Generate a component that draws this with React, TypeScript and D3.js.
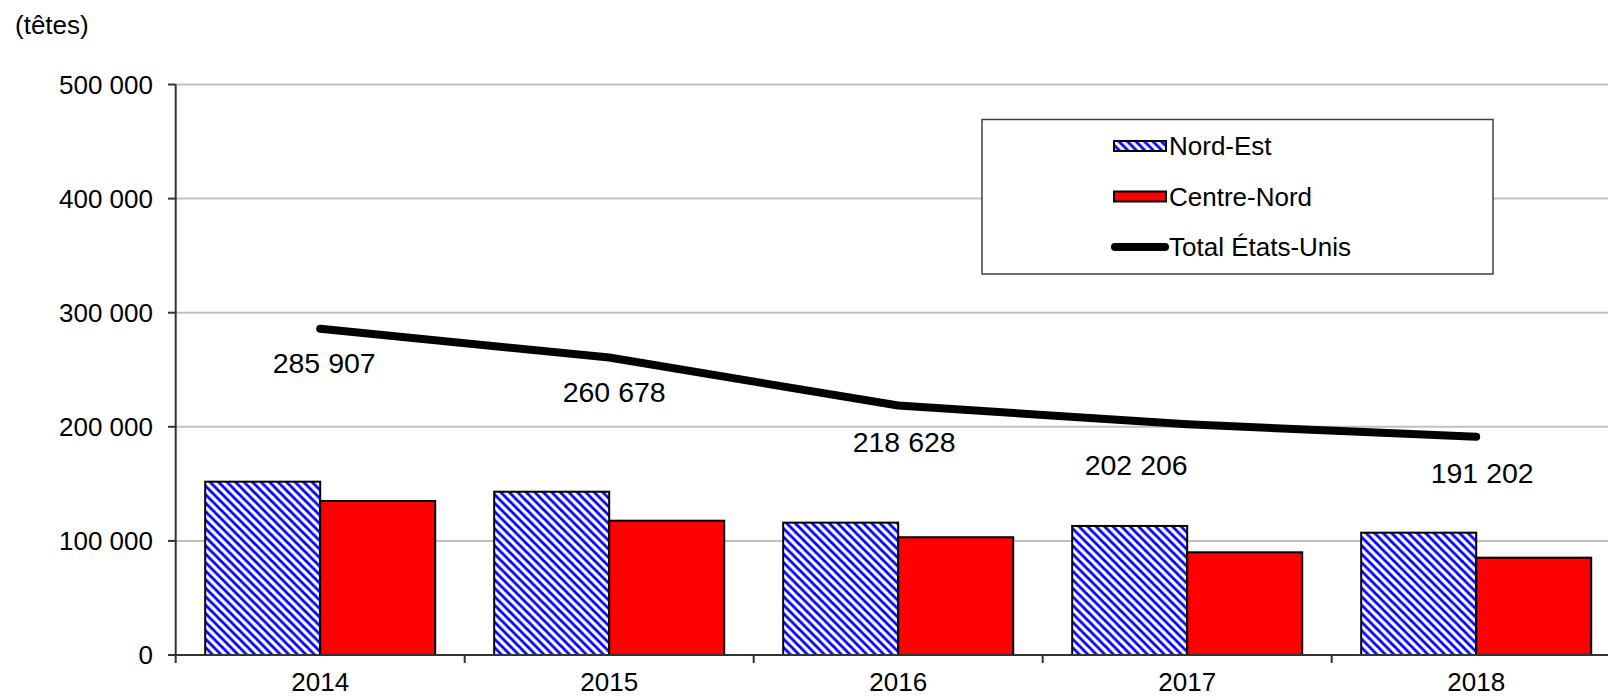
import React from "react";
import * as d3 from "d3";

const years = ["2014", "2015", "2016", "2017", "2018"];
const nordEst = [151900, 143100, 116000, 113100, 107200];
const centreNord = [135000, 117700, 103200, 90000, 85300];
const totalUS = [285907, 260678, 218628, 202206, 191202];
const totalLabels = ["285 907", "260 678", "218 628", "202 206", "191 202"];
const yTicks = [0, 100000, 200000, 300000, 400000, 500000];
const yTickLabels = ["0", "100 000", "200 000", "300 000", "400 000", "500 000"];
const seriesNames = ["Nord-Est", "Centre-Nord", "Total États-Unis"];
const unitLabel = "(têtes)";

// label placement offsets (dx, dy from the data point)
const labelOffsets: [number, number][] = [
  [4, 44],
  [5, 44],
  [6, 46],
  [-51, 51],
  [6, 46],
];

const W = 1608;
const H = 698;
const left = 175.7;
const step = 289;
const top = 84.5;
const bottom = 655;
const FONT = "'Liberation Sans', Arial, sans-serif";
const P = 8.5;

export default function App() {
  const x = d3.scaleBand<string>().domain(years).range([left, left + step * years.length]).padding(0);
  const x1 = d3
    .scaleBand<string>()
    .domain(["ne", "cn"])
    .range([0, x.bandwidth()])
    .paddingInner(0)
    .paddingOuter(0.2565);
  const y = d3.scaleLinear().domain([0, 500000]).range([bottom, top]);
  const line = d3
    .line<number>()
    .x((_, i) => (x(years[i]) as number) + x.bandwidth() / 2)
    .y((d) => y(d))
    .curve(d3.curveLinear);

  const plotRight = left + step * years.length;
  const fs = 26;

  return (
    <svg
      width={W}
      height={H}
      style={{ position: "absolute", left: 0, top: 0, background: "#fff" }}
      fontFamily={FONT}
    >
      <defs>
        <pattern id="hatch" patternUnits="userSpaceOnUse" width={P} height={P}>
          <rect width={P} height={P} fill="#fff" />
          <path
            d={`M${-P / 4},${(3 * P) / 4} L${P / 4},${(5 * P) / 4} M0,0 L${P},${P} M${(3 * P) / 4},${-P / 4} L${(5 * P) / 4},${P / 4}`}
            stroke="#0000ff"
            strokeWidth={2.8}
          />
        </pattern>
      </defs>
      <rect width={W} height={H} fill="#fff" />

      <text x={15} y={34} fontSize={fs} fill="#000">
        {unitLabel}
      </text>

      {/* gridlines */}
      {yTicks.slice(1).map((t) => (
        <line key={t} x1={left} x2={plotRight} y1={y(t)} y2={y(t)} stroke="#c0c0c0" strokeWidth={2} />
      ))}

      {/* y ticks and labels */}
      {yTicks.map((t, i) => (
        <g key={t}>
          <line x1={168} x2={left} y1={y(t)} y2={y(t)} stroke="#333" strokeWidth={2} />
          <text x={153} y={y(t) + 9} fontSize={fs} textAnchor="end" fill="#000">
            {yTickLabels[i]}
          </text>
        </g>
      ))}

      {/* bars */}
      {years.map((yr, i) => (
        <g key={yr}>
          <rect
            x={(x(yr) as number) + (x1("ne") as number)}
            y={y(nordEst[i])}
            width={x1.bandwidth()}
            height={bottom - y(nordEst[i])}
            fill="url(#hatch)"
            stroke="#000"
            strokeWidth={2}
          />
          <rect
            x={(x(yr) as number) + (x1("cn") as number)}
            y={y(centreNord[i])}
            width={x1.bandwidth()}
            height={bottom - y(centreNord[i])}
            fill="#ff0000"
            stroke="#000"
            strokeWidth={2}
          />
        </g>
      ))}

      {/* axes */}
      <line x1={left} x2={left} y1={top} y2={bottom + 8} stroke="#333" strokeWidth={2} />
      <line x1={left} x2={plotRight} y1={bottom} y2={bottom} stroke="#333" strokeWidth={2} />
      {years.map((yr) => (
        <line
          key={yr}
          x1={(x(yr) as number) + step}
          x2={(x(yr) as number) + step}
          y1={bottom}
          y2={bottom + 8}
          stroke="#333"
          strokeWidth={2}
        />
      ))}
      {years.map((yr) => (
        <text
          key={yr}
          x={(x(yr) as number) + x.bandwidth() / 2}
          y={691}
          fontSize={fs}
          textAnchor="middle"
          fill="#000"
        >
          {yr}
        </text>
      ))}

      {/* total line */}
      <path d={line(totalUS) as string} fill="none" stroke="#000" strokeWidth={8} strokeLinecap="round" strokeLinejoin="round" />
      {totalUS.map((v, i) => (
        <text
          key={i}
          x={(x(years[i]) as number) + x.bandwidth() / 2 + labelOffsets[i][0]}
          y={y(v) + labelOffsets[i][1]}
          fontSize={28.5}
          textAnchor="middle"
          fill="#000"
        >
          {totalLabels[i]}
        </text>
      ))}

      {/* legend */}
      <rect x={982} y={119.5} width={511} height={154.5} fill="#fff" stroke="#404040" strokeWidth={1.5} />
      <rect x={1114} y={141} width={52} height={10} fill="url(#hatch)" stroke="#000" strokeWidth={2} />
      <text x={1169} y={155} fontSize={fs} fill="#000">
        {seriesNames[0]}
      </text>
      <rect x={1114} y={191.5} width={52} height={10} fill="#ff0000" stroke="#000" strokeWidth={2} />
      <text x={1169} y={205.5} fontSize={fs} fill="#000">
        {seriesNames[1]}
      </text>
      <line x1={1115} x2={1165} y1={247} y2={247} stroke="#000" strokeWidth={8} strokeLinecap="round" />
      <text x={1169} y={256} fontSize={fs} fill="#000">
        {seriesNames[2]}
      </text>
    </svg>
  );
}
